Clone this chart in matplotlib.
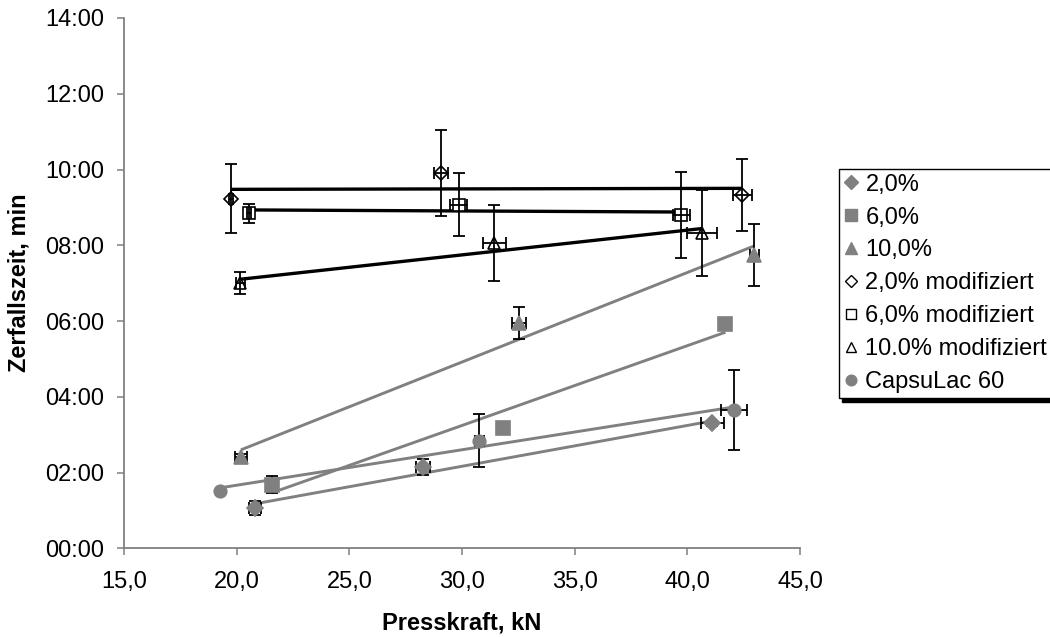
import matplotlib
matplotlib.use("Agg")
import matplotlib.pyplot as plt
from matplotlib.ticker import FuncFormatter, MultipleLocator
from matplotlib.lines import Line2D
import numpy as np

plt.rcParams['font.family'] = ['Liberation Sans', 'DejaVu Sans']

# Data: Presskraft (kN), Zerfallszeit (minutes), errors
labels = ["2,0%", "6,0%", "10,0%", "2,0% modifiziert", "6,0% modifiziert",
          "10.0% modifiziert", "CapsuLac 60"]

x_2 = [20.81, 28.28, 41.11]
y_2 = [64, 129, 198]
yerr_2 = [11, 13, 4]
xerr_2 = [0.25, 0.3, 0.52]

x_6 = [21.56, 31.84, 41.69]
y_6 = [101, 191, 356]
yerr_6 = [14, 0, 0]
xerr_6 = [0.1, 0, 0.2]

x_10 = [20.19, 32.53, 42.98]
y_10 = [144, 357, 465]
yerr_10 = [6, 26, 49]
xerr_10 = [0.25, 0.29, 0.2]

x_2m = [19.74, 29.07, 42.44]
y_2m = [554, 594, 560]
yerr_2m = [55, 68, 57]
xerr_2m = [0.1, 0.31, 0.42]

x_6m = [20.55, 29.85, 39.74]
y_6m = [531, 544, 528]
yerr_6m = [15, 50, 68]
xerr_6m = [0.1, 0.38, 0.37]

x_10m = [20.15, 31.44, 40.64]
y_10m = [420, 484, 499]
yerr_10m = [17, 60, 68]
xerr_10m = [0.2, 0.52, 0.67]

x_cl = [19.26, 30.77, 42.06]
y_cl = [91, 170, 219]
yerr_cl = [0, 42, 64]
xerr_cl = [0, 0.2, 0.58]

xticks = [15, 20, 25, 30, 35, 40, 45]

GRAY = "#808080"
series = [
    (x_2, y_2, xerr_2, yerr_2, 'D', GRAY, GRAY, 8),
    (x_6, y_6, xerr_6, yerr_6, 's', GRAY, GRAY, 9.5),
    (x_10, y_10, xerr_10, yerr_10, '^', GRAY, GRAY, 10),
    (x_2m, y_2m, xerr_2m, yerr_2m, 'D', 'white', 'black', 7.5),
    (x_6m, y_6m, xerr_6m, yerr_6m, 's', 'white', 'black', 8.5),
    (x_10m, y_10m, xerr_10m, yerr_10m, '^', 'white', 'black', 9),
    (x_cl, y_cl, xerr_cl, yerr_cl, 'o', GRAY, GRAY, 9),
]

fig = plt.figure(figsize=(10.5, 6.37), dpi=100)
ax = fig.add_axes([124/1050, 1-548.3/637, (800-124)/1050, (548.3-18)/637])

for (xs, ys, xe, ye, mk, fc, ec, ms) in series:
    xs = np.array(xs); ys = np.array(ys)
    # linear trend line (Excel-style)
    p = np.polyfit(xs, ys, 1)
    xl = np.array([xs.min(), xs.max()])
    lc = 'black' if ec == 'black' else GRAY
    lw = 2.4 if ec == 'black' else 2.1
    ax.plot(xl, np.polyval(p, xl), color=lc, lw=lw, zorder=2, solid_capstyle='butt')
    filled = fc != 'white'
    ax.plot(xs, ys, linestyle='none', marker=mk, ms=ms, mfc=fc, mec=ec,
            mew=1.2, zorder=5 if filled else 3)
    ax.errorbar(xs, ys, xerr=xe, yerr=ye, fmt='none', ecolor='black',
                elinewidth=1.3, capsize=4, capthick=1.3, zorder=4)

ax.set_xlim(15, 45)
ax.set_ylim(0, 840)
ax.set_xticks(xticks)
ax.xaxis.set_major_formatter(FuncFormatter(lambda v, p: f"{v:.1f}".replace('.', ',')))
ax.yaxis.set_major_locator(MultipleLocator(120))
ax.yaxis.set_major_formatter(FuncFormatter(lambda v, p: f"{int(v//60):02d}:{int(v%60):02d}"))

for s in ['top', 'right']:
    ax.spines[s].set_visible(False)
for s in ['left', 'bottom']:
    ax.spines[s].set_color(GRAY)
    ax.spines[s].set_linewidth(1.3)
ax.tick_params(axis='both', direction='out', length=5, width=1.1, color=GRAY,
               labelsize=17, labelcolor='black')
ax.tick_params(axis='x', pad=11)
ax.tick_params(axis='y', pad=9)

ax.set_xlabel("Presskraft, kN", fontsize=17, fontweight='bold', labelpad=14)
ax.set_ylabel("Zerfallszeit, min", fontsize=17, fontweight='bold', labelpad=11)

handles = []
for (xs, ys, xe, ye, mk, fc, ec, ms), lab in zip(series, labels):
    handles.append(Line2D([], [], linestyle='none', marker=mk, mfc=fc, mec=ec,
                          mew=1.0, ms=ms*0.85, label=lab))
leg = fig.legend(handles=handles, loc='upper left',
                 bbox_to_anchor=(839/1050, 1-168.5/637), fontsize=17,
                 frameon=True, fancybox=False, edgecolor='black',
                 handlelength=0.6, handletextpad=0.3, labelspacing=0.46,
                 borderpad=0.22, borderaxespad=0,
                 shadow={'ox': 2, 'oy': -2.5, 'color': 'black', 'alpha': 1})
leg.get_frame().set_linewidth(1.0)

fig.savefig("out.png", dpi=100)
